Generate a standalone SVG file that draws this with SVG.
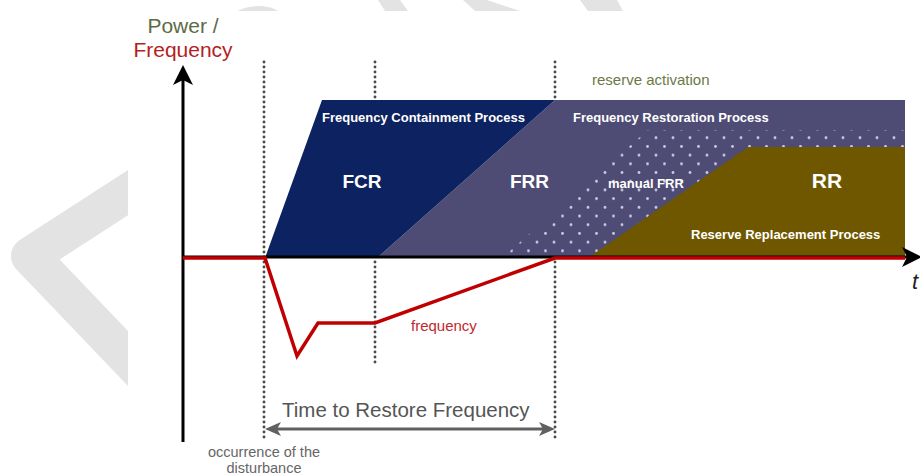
<svg xmlns="http://www.w3.org/2000/svg" width="920" height="476" viewBox="0 0 920 476">
  <defs>
    <style>
      .wm { fill: #e3e3e3; }
      .dotline { fill: none; stroke: #4a4a4a; stroke-width: 2.9; stroke-linecap: round; stroke-dasharray: 0 5; }
      .lbl { font-family: "Liberation Sans", Arial, sans-serif; }
      .proc { font-family: "Liberation Sans", Arial, sans-serif; font-weight: bold; fill: #ffffff; font-size: 13px; }
      .big { font-family: "Liberation Sans", Arial, sans-serif; font-weight: bold; fill: #ffffff; text-anchor: middle; }
      .red { fill: none; stroke: #c00000; stroke-width: 3.5; stroke-linejoin: miter; }
    </style>
    <pattern id="dots" patternUnits="userSpaceOnUse" width="17" height="17.4">
      <circle cx="10" cy="15.9" r="1.4" fill="#cdcde6"/>
      <circle cx="1.5" cy="7.2" r="1.4" fill="#cdcde6"/>
    </pattern>
    <marker id="ahBlack" viewBox="0 0 20 20" refX="10" refY="10" markerUnits="userSpaceOnUse" markerWidth="20" markerHeight="20" orient="auto">
      <path d="M0,0 L20,10 L0,20 L5,10 Z" fill="#000"/>
    </marker>
    <marker id="ahGray" viewBox="0 0 16 14" refX="8" refY="7" markerUnits="userSpaceOnUse" markerWidth="16" markerHeight="14" orient="auto-start-reverse">
      <path d="M0,0 L16,7 L0,14 L4,7 Z" fill="#606060"/>
    </marker>
    <clipPath id="leftClip"><rect x="0" y="0" width="128" height="476"/></clipPath>
  </defs>

  <rect x="0" y="0" width="920" height="476" fill="#ffffff"/>

  <g id="watermark">
    <path d="M160,172 L30,256 L160,392" fill="none" stroke="#e3e3e3" stroke-width="38" stroke-linejoin="round" clip-path="url(#leftClip)"/>
    <path class="wm" d="M238,11 C246,5 268,4 278,11 Z"/>
    <polygon class="wm" points="378,0 400,0 408,11 385,11"/>
    <polygon class="wm" points="463,0 487,0 520,11 475,11"/>
    <polygon class="wm" points="580,0 617,0 623,11 588,11"/>
  </g>

  <g id="guides">
    <line class="dotline" x1="264" y1="62" x2="264" y2="441"/>
    <line class="dotline" x1="375" y1="62" x2="375" y2="98"/>
    <line class="dotline" x1="375" y1="262" x2="375" y2="366"/>
    <line class="dotline" x1="555" y1="62" x2="555" y2="98"/>
    <line class="dotline" x1="555" y1="262" x2="555" y2="441"/>
  </g>

  <g id="frr">
    <polygon points="377,258 555,100 905,100 905,258" fill="#4e4c74"/>
    <polygon points="502,258 648,130 905,130 905,258" fill="url(#dots)"/>
    <text class="proc" x="573" y="122">Frequency Restoration Process</text>
    <text class="big" x="529.5" y="188" font-size="19">FRR</text>
    <text class="proc" x="608" y="188">manual FRR</text>
  </g>

  <g id="fcr">
    <polygon points="265,258 322,100 555,100 377,258" fill="#0d2260"/>
    <text class="proc" x="322" y="122">Frequency Containment Process</text>
    <text class="big" x="362" y="188" font-size="19">FCR</text>
  </g>

  <g id="rr">
    <polygon points="588,258 748,147 905,147 905,258" fill="#6f5700"/>
    <text class="big" x="827" y="188" font-size="21">RR</text>
    <text class="proc" x="691" y="239">Reserve Replacement Process</text>
  </g>

  <g id="connectors">
    <line x1="183" y1="442" x2="183" y2="75" stroke="#000" stroke-width="3" marker-end="url(#ahBlack)"/>
    <line x1="183" y1="257" x2="912" y2="257" stroke="#000" stroke-width="3" marker-end="url(#ahBlack)"/>
    <polyline class="red" points="183,258 265,258 297,356 318,323 375,323 555,258 905,258"/>
    <line x1="273" y1="429" x2="547" y2="429" stroke="#606060" stroke-width="3" marker-start="url(#ahGray)" marker-end="url(#ahGray)"/>
  </g>

  <g id="labels" class="lbl">
    <text x="183" y="33" font-size="21" fill="#5d6b43" text-anchor="middle">Power /</text>
    <text x="183" y="57" font-size="21" fill="#b41e1e" text-anchor="middle">Frequency</text>
    <text x="592" y="85" font-size="15" fill="#6b7a45">reserve activation</text>
    <text x="411" y="331" font-size="15" fill="#c0282d">frequency</text>
    <text x="282" y="417" font-size="20.5" fill="#555">Time to Restore Frequency</text>
    <text x="264" y="457" font-size="14.5" fill="#666" text-anchor="middle">occurrence of the</text>
    <text x="264" y="473" font-size="14.5" fill="#666" text-anchor="middle">disturbance</text>
    <text x="912" y="289" font-size="22" font-style="italic" fill="#222">t</text>
  </g>
</svg>
